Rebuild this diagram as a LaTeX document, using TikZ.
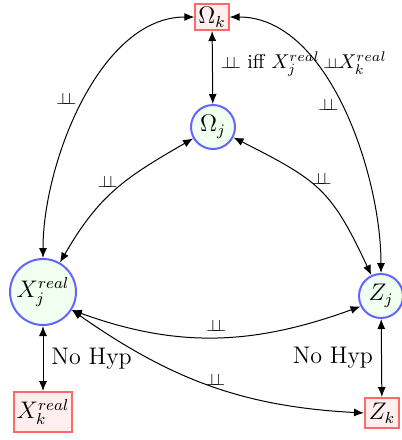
\documentclass[tikz,border=0pt]{standalone}
\usetikzlibrary{arrows.meta}
\definecolor{cblue}{RGB}{100,100,255}
\definecolor{cgreen}{RGB}{240,255,240}
\definecolor{cred}{RGB}{255,105,105}
\definecolor{cpink}{RGB}{255,238,238}
\newcommand{\indep}{\mbox{\footnotesize$\perp\mkern-7mu\perp$}}
\newcommand{\indepS}{\mbox{\scriptsize$\perp\mkern-7mu\perp$}}
\begin{document}
\begin{tikzpicture}[x=0.5pt,y=0.5pt,font=\large,
  circ/.style={circle,draw=cblue,fill=cgreen,line width=1pt,inner sep=0pt},
  sq/.style={rectangle,draw=cred,fill=cpink,line width=1pt,inner sep=1.5pt},
  conn/.style={line width=0.5pt,{Latex[length=5pt,width=4pt]}-{Latex[length=5pt,width=4pt]}}]
\useasboundingbox (0,0) rectangle (402,-440);
\node[sq,minimum width=15pt,minimum height=12.5pt] (Ok) at (212,-17) {$\Omega_k$};
\node[circ,minimum size=22pt] (Oj) at (213,-127) {$\Omega_j$};
\node[circ,minimum size=33pt] (Xj) at (43,-292) {$X_j^{real}$};
\node[circ,minimum size=22pt] (Zj) at (381,-296) {$Z_j$};
\node[sq,minimum width=25pt,minimum height=20pt] (Xk) at (43,-412) {$X_k^{real}$};
\node[sq,minimum width=17pt,minimum height=15pt] (Zk) at (382,-413) {$Z_k$};

\draw[conn] (Ok) -- node[pos=0.45,right,inner sep=4pt,font=\normalsize] {\indep{} iff $X_j^{real}$\,\indepS$\!X_k^{real}$} (Oj);
\draw[conn] (Ok.west) to[out=180,in=90,looseness=0.85] node[pos=0.49,left,inner sep=4pt] {\indep} (Xj.north);
\draw[conn] (Ok.east) to[out=0,in=90,looseness=0.85] node[pos=0.49,left,inner sep=1pt] {\indep} (Zj.north);
\draw[conn] (Oj.210) to[out=210,in=60,looseness=1.1] node[pos=0.5,anchor=south,inner sep=1pt,xshift=-4pt] {\indep} (Xj.60);
\draw[conn] (Oj.-27) to[out=-27,in=115,looseness=1.25] node[pos=0.45,anchor=south west,inner sep=0pt,xshift=-1pt] {\indep} (Zj.115);
\draw[conn] (Xj.-32) to[out=-20,in=200] node[midway,above,inner sep=2.5pt] {\indep} (Zj.207);
\draw[conn] (Xj.-32) to[out=-35,in=177] node[pos=0.52,above,inner sep=0.5pt] {\indep} (Zk.west);
\draw[conn] (Xj) -- node[right,inner sep=4pt] {No Hyp} (Xk);
\draw[conn] (Zj) -- node[left,inner sep=4pt] {No Hyp} (Zk);
\end{tikzpicture}
\end{document}
